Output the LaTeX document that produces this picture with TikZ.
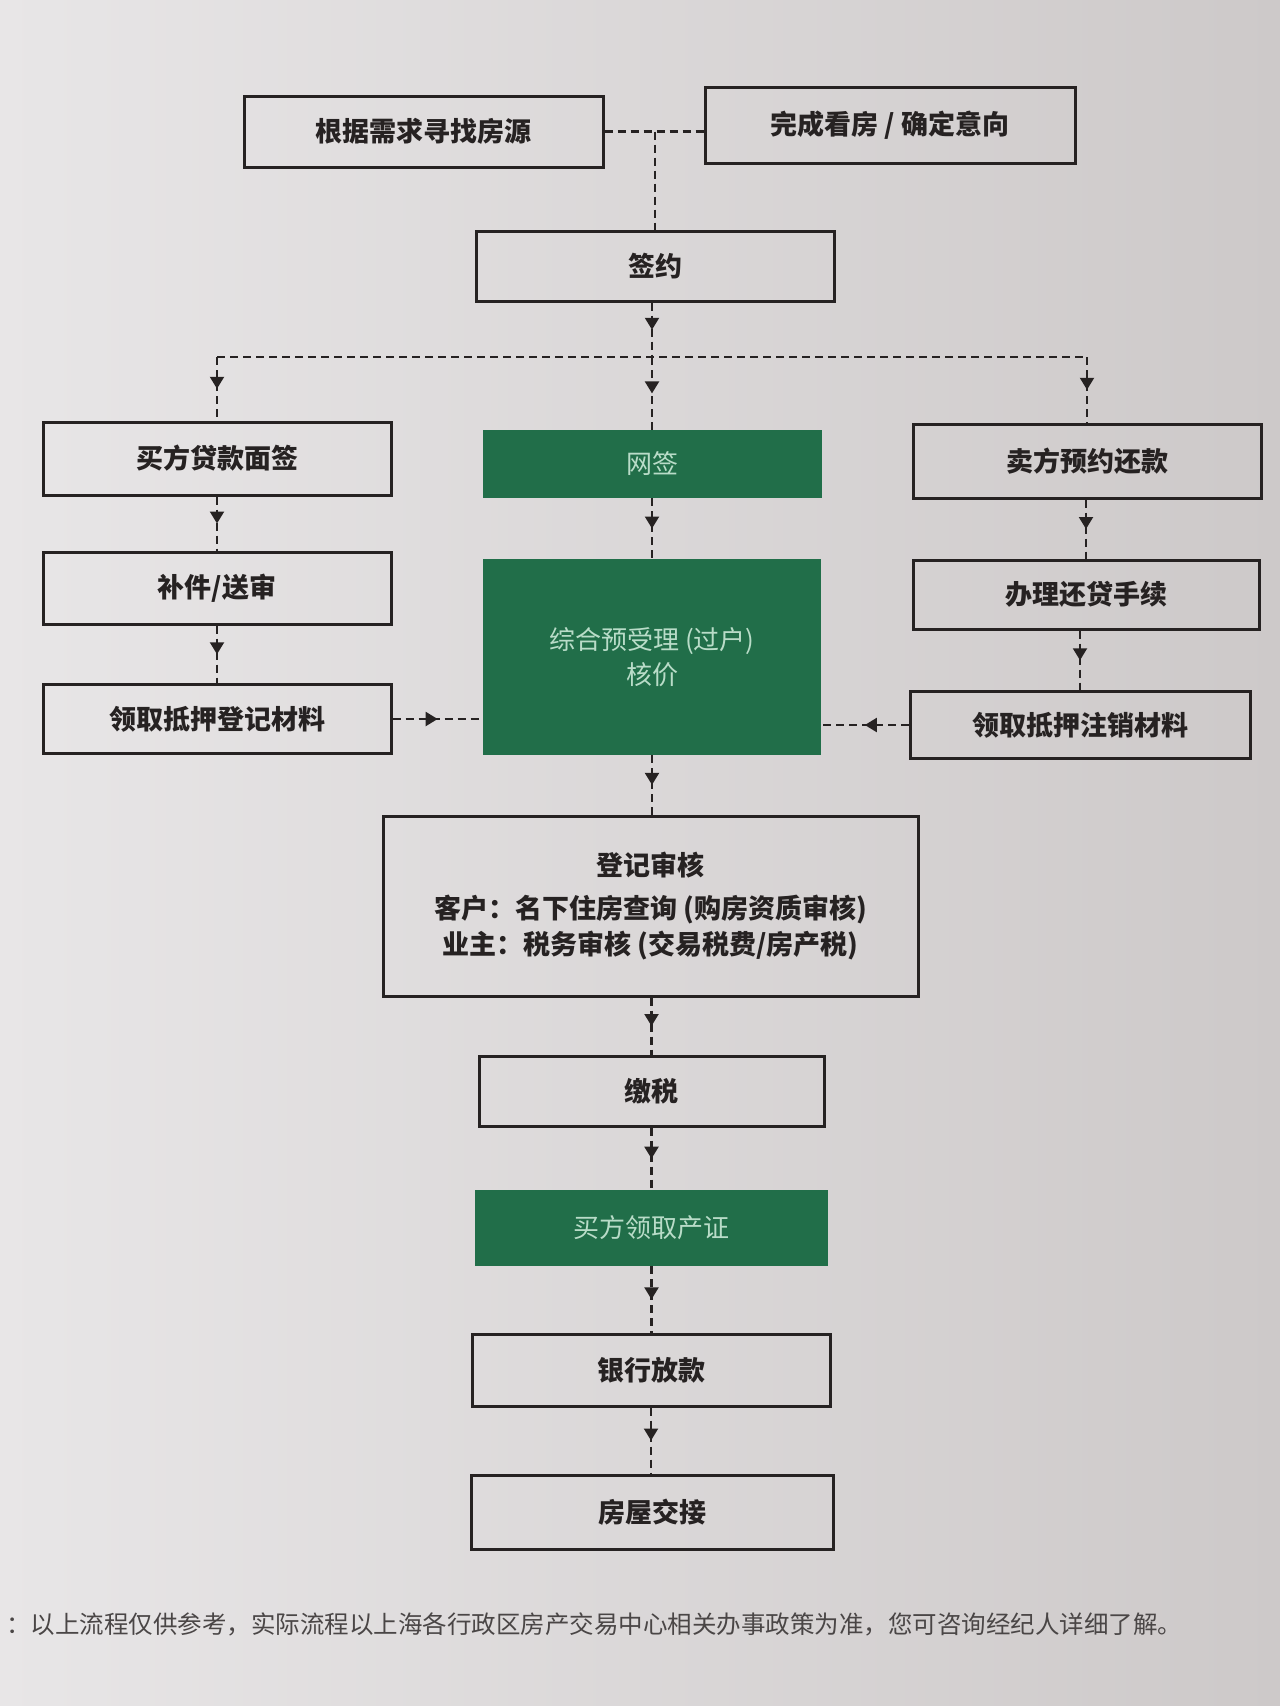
\documentclass[tikz,border=0pt]{standalone}
\usepackage{fontspec}
\newfontfamily\cjk{Noto Sans CJK SC}
\usetikzlibrary{arrows.meta,decorations.markings}
\definecolor{paperL}{HTML}{E8E6E7}
\definecolor{paperR}{HTML}{CDC9C9}
\definecolor{ink}{HTML}{262222}
\definecolor{gbox}{HTML}{216E49}
\definecolor{gtext}{HTML}{B9DCC8}
\definecolor{note}{HTML}{4A4646}
\tikzset{
  wbox/.style={draw=ink, line width=3pt, minimum height=#1, inner sep=0pt,
    font=\cjk\bfseries\fontsize{27pt}{36pt}\selectfont, text=ink, align=center},
  gnode/.style={fill=gbox, minimum height=#1, inner sep=0pt,
    font=\cjk\fontsize{26pt}{35pt}\selectfont, text=gtext, align=center},
  link/.style={draw=ink, line width=2.2pt, dash pattern=on 8pt off 5pt},
  midarrow/.style={link, postaction={decorate, decoration={markings,
    mark=at position 0.5 with {\arrow[ink]{Triangle[width=14pt,length=12pt]}}}}}
}
\begin{document}
\begin{tikzpicture}[x=1pt,y=-1pt]
\useasboundingbox (0,0) rectangle (1280,1706);
\shade[left color=paperL, right color=paperR] (0,0) rectangle (1280,1706);

% top row
\node[wbox=71pt, minimum width=359pt] (find) at (423.5,131.5) {根据需求寻找房源};
\node[wbox=76pt, minimum width=370pt] (view) at (890,125) {完成看房 / 确定意向};
\node[wbox=70pt, minimum width=358pt] (sign) at (655,266) {签约};

% middle column
\node[gnode=68pt, minimum width=339pt] (wq) at (652,464) {网签};
\node[gnode=196pt, minimum width=338pt] (zh) at (652,657) {综合预受理 (过户)\\核价};

% left column
\node[wbox=73pt, minimum width=348pt] (b1) at (217,458.5) {买方贷款面签};
\node[wbox=72pt, minimum width=348pt] (b2) at (217,588) {补件/送审};
\node[wbox=69pt, minimum width=348pt] (b3) at (217,719) {领取抵押登记材料};

% right column
\node[wbox=74pt, minimum width=348pt] (s1) at (1087,461) {卖方预约还款};
\node[wbox=69pt, minimum width=346pt] (s2) at (1086,594.5) {办理还贷手续};
\node[wbox=67pt, minimum width=340pt] (s3) at (1080,725) {领取抵押注销材料};

% lower column
\node[wbox=180pt, minimum width=535pt] (dj) at (650.5,906)
  {登记审核\\[7pt]客户：名下住房查询 (购房资质审核)\\业主：税务审核 (交易税费/房产税)};
\node[wbox=70pt, minimum width=345pt] (js) at (651.5,1091) {缴税};
\node[gnode=76pt, minimum width=353pt] (cz) at (651.5,1228) {买方领取产证};
\node[wbox=72pt, minimum width=358pt] (yh) at (651,1370) {银行放款};
\node[wbox=74pt, minimum width=362pt] (fw) at (652,1512) {房屋交接};

% footnote
\node[anchor=base west, inner sep=0pt, font=\cjk\fontsize{24.5pt}{28pt}\selectfont, text=note]
  (fn) at (6,1633) {：以上流程仅供参考，实际流程以上海各行政区房产交易中心相关办事政策为准，您可咨询经纪人详细了解。};

% connectors
\coordinate (j1) at (sign.north |- find.east);
\draw[link] (find.east) -- (view.west |- find.east);
\draw[link] (j1) -- (sign.north);

\coordinate (split) at (wq.north |- 0,357);
\coordinate (splitL) at (b1.north |- split);
\coordinate (splitR) at (s1.north |- split);
\draw[midarrow] (sign.south -| wq.north) -- (split);
\draw[link] (splitL) -- (splitR);
\draw[midarrow] (split) -- (wq.north);
\draw[midarrow] (splitL) -- (b1.north);
\draw[midarrow] (splitR) -- (s1.north);

\draw[midarrow] (b1.south) -- (b2.north);
\draw[midarrow] (b2.south) -- (b3.north);
\draw[midarrow] (s1.south -| s2.north) -- (s2.north);
\draw[midarrow] (s2.south -| s3.north) -- (s3.north);
\draw[midarrow] (wq.south) -- (zh.north);

\draw[midarrow] (b3.east) -- (zh.west |- b3.east);
\draw[midarrow] (s3.west) -- (zh.east |- s3.west);

\draw[midarrow] (zh.south) -- (dj.north -| zh.south);
\draw[midarrow] (dj.south -| js.north) -- (js.north);
\draw[midarrow] (js.south) -- (cz.north -| js.south);
\draw[midarrow] (cz.south) -- (yh.north -| cz.south);
\draw[midarrow] (yh.south) -- (fw.north -| yh.south);
\end{tikzpicture}
\end{document}
